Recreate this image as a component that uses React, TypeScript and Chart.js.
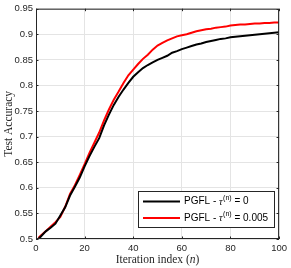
import React, { useEffect, useRef } from "react";
import { Chart, registerables } from "chart.js";

Chart.register(...registerables);

const nValues = [1, 2, 4, 6, 8, 10, 12, 14, 16, 18, 20, 22, 24, 26, 28, 30, 32, 34, 36, 38, 40, 42, 44, 46, 48, 50, 52, 54, 56, 58, 60, 62, 64, 66, 68, 70, 72, 74, 76, 78, 80, 82, 84, 86, 88, 90, 92, 94, 96, 98, 100];
const blackAcc = [0.500, 0.505, 0.515, 0.522, 0.530, 0.546, 0.562, 0.585, 0.602, 0.620, 0.642, 0.662, 0.680, 0.697, 0.722, 0.743, 0.762, 0.778, 0.792, 0.805, 0.817, 0.826, 0.834, 0.840, 0.845, 0.850, 0.854, 0.858, 0.864, 0.867, 0.871, 0.874, 0.877, 0.880, 0.882, 0.885, 0.887, 0.889, 0.891, 0.892, 0.894, 0.895, 0.896, 0.897, 0.898, 0.899, 0.900, 0.901, 0.902, 0.903, 0.904];
const redAcc = [0.502, 0.507, 0.515, 0.524, 0.533, 0.543, 0.563, 0.588, 0.605, 0.625, 0.646, 0.668, 0.688, 0.708, 0.732, 0.753, 0.772, 0.788, 0.805, 0.820, 0.831, 0.842, 0.852, 0.860, 0.870, 0.878, 0.883, 0.888, 0.892, 0.896, 0.898, 0.900, 0.903, 0.906, 0.908, 0.910, 0.911, 0.913, 0.914, 0.915, 0.917, 0.918, 0.919, 0.919, 0.920, 0.921, 0.921, 0.922, 0.922, 0.923, 0.923];

const xTicks = [0, 20, 40, 60, 80, 100];
const xTickLabels = ["0", "20", "40", "60", "80", "100"];
const yTicks = [0.5, 0.55, 0.6, 0.65, 0.7, 0.75, 0.8, 0.85, 0.9, 0.95];
const yTickLabels = ["0.5", "0.55", "0.6", "0.65", "0.7", "0.75", "0.8", "0.85", "0.9", "0.95"];

const seriesNames = ["0", "0.005"];
const seriesColors = ["#000000", "#ff0000"];

const AXIS = "#262626";
const GRID = "#e4e4e4";
const SANS = "'Liberation Sans', Arial, sans-serif";
const SERIF = "'Liberation Serif', 'Times New Roman', serif";

const decorPlugin = {
  id: "decor",
  afterDraw(chart: any) {
    const ctx = chart.ctx;
    const a = chart.chartArea;
    const xs = chart.scales.x;
    const ys = chart.scales.y;
    ctx.save();
    // box
    ctx.strokeStyle = AXIS;
    ctx.lineWidth = 1;
    ctx.strokeRect(a.left + 0.5, a.top + 0.5, a.right - a.left - 1, a.bottom - a.top - 1);
    // inward ticks
    const tl = 2.5;
    ctx.beginPath();
    xTicks.forEach((v) => {
      const px = Math.round(xs.getPixelForValue(v)) + 0.5;
      ctx.moveTo(px, a.bottom);
      ctx.lineTo(px, a.bottom - tl);
      ctx.moveTo(px, a.top);
      ctx.lineTo(px, a.top + tl);
    });
    yTicks.forEach((v) => {
      const py = Math.round(ys.getPixelForValue(v)) + 0.5;
      ctx.moveTo(a.left, py);
      ctx.lineTo(a.left + tl, py);
      ctx.moveTo(a.right, py);
      ctx.lineTo(a.right - tl, py);
    });
    ctx.stroke();

    // y title
    ctx.fillStyle = AXIS;
    ctx.font = `11.5px ${SERIF}`;
    ctx.textAlign = "center";
    ctx.textBaseline = "middle";
    ctx.save();
    ctx.translate(9, (a.top + a.bottom) / 2);
    ctx.rotate(-Math.PI / 2);
    ctx.fillText("Test Accuracy", 0, 0);
    ctx.restore();

    // x title with italic n
    const cx = (a.left + a.right) / 2;
    const ty = 260;
    const p1 = "Iteration index (";
    const p2 = "n";
    const p3 = ")";
    ctx.font = `11.5px ${SERIF}`;
    const w1 = ctx.measureText(p1).width;
    const w3 = ctx.measureText(p3).width;
    ctx.font = `italic 11.5px ${SERIF}`;
    const w2 = ctx.measureText(p2).width;
    let x0 = cx - (w1 + w2 + w3) / 2;
    ctx.textAlign = "left";
    ctx.font = `11.5px ${SERIF}`;
    ctx.fillText(p1, x0, ty);
    x0 += w1;
    ctx.font = `italic 11.5px ${SERIF}`;
    ctx.fillText(p2, x0, ty);
    x0 += w2;
    ctx.font = `11.5px ${SERIF}`;
    ctx.fillText(p3, x0, ty);

    // legend
    const lx = 138.5, ly = 191.5, lw = 136, lh = 36;
    ctx.fillStyle = "#ffffff";
    ctx.fillRect(lx, ly, lw, lh);
    ctx.strokeStyle = AXIS;
    ctx.lineWidth = 1;
    ctx.strokeRect(lx, ly, lw, lh);
    const rows = [201.5, 218];
    rows.forEach((ry, i) => {
      ctx.strokeStyle = seriesColors[i];
      ctx.lineWidth = 2;
      ctx.beginPath();
      ctx.moveTo(143, ry);
      ctx.lineTo(180, ry);
      ctx.stroke();
      ctx.fillStyle = "#000000";
      ctx.textBaseline = "middle";
      let tx = 184;
      ctx.font = `10px ${SANS}`;
      const s1 = "PGFL - ";
      ctx.fillText(s1, tx, ry);
      tx += ctx.measureText(s1).width;
      ctx.font = `italic 10px ${SERIF}`;
      ctx.fillText("\u03c4", tx, ry + 0.5);
      tx += ctx.measureText("\u03c4").width + 0.5;
      ctx.font = `7px ${SANS}`;
      ctx.fillText("(n)", tx, ry - 3.5);
      tx += ctx.measureText("(n)").width;
      ctx.font = `10px ${SANS}`;
      ctx.fillText(" = " + seriesNames[i], tx, ry);
    });
    ctx.restore();
  },
};

export default function App() {
  const ref = useRef<HTMLCanvasElement | null>(null);
  useEffect(() => {
    if (!ref.current) return;
    const mk = (arr: number[]) => nValues.map((n, i) => ({ x: n, y: arr[i] }));
    const chart = new Chart(ref.current, {
      type: "line",
      data: {
        datasets: [
          { label: "PGFL - tau(n) = 0", data: mk(blackAcc), borderColor: seriesColors[0], borderWidth: 2, pointRadius: 0, tension: 0, fill: false },
          { label: "PGFL - tau(n) = 0.005", data: mk(redAcc), borderColor: seriesColors[1], borderWidth: 2, pointRadius: 0, tension: 0, fill: false },
        ],
      },
      options: {
        animation: false,
        responsive: false,
        devicePixelRatio: 1,
        layout: { padding: { top: 6, right: 8, left: 0, bottom: 0 } },
        plugins: { legend: { display: false }, tooltip: { enabled: false } },
        scales: {
          x: {
            type: "linear",
            min: 0,
            max: 100,
            afterBuildTicks: (s: any) => { s.ticks = xTicks.map((v) => ({ value: v })); },
            afterFit: (s: any) => { s.height = 29; },
            ticks: {
              callback: (_v: any, i: number) => xTickLabels[i],
              font: { family: SANS, size: 9.5 },
              color: AXIS,
              padding: 4,
              maxRotation: 0,
              autoSkip: false,
            },
            grid: { color: GRID, drawTicks: false, lineWidth: 1 },
            border: { display: false },
          },
          y: {
            type: "linear",
            min: 0.5,
            max: 0.95,
            afterBuildTicks: (s: any) => { s.ticks = yTicks.map((v) => ({ value: v })); },
            afterFit: (s: any) => { s.width = 36; },
            ticks: {
              callback: (_v: any, i: number) => yTickLabels[i],
              font: { family: SANS, size: 9.5 },
              color: AXIS,
              padding: 3,
              autoSkip: false,
            },
            grid: { color: GRID, drawTicks: false, lineWidth: 1 },
            border: { display: false },
          },
        },
      },
      plugins: [decorPlugin],
    } as any);
    return () => chart.destroy();
  }, []);
  return (
    <div style={{ position: "fixed", left: 0, top: 0, width: 291, height: 268, background: "#ffffff" }}>
      <canvas ref={ref} width={291} height={268} style={{ display: "block" }} />
    </div>
  );
}
